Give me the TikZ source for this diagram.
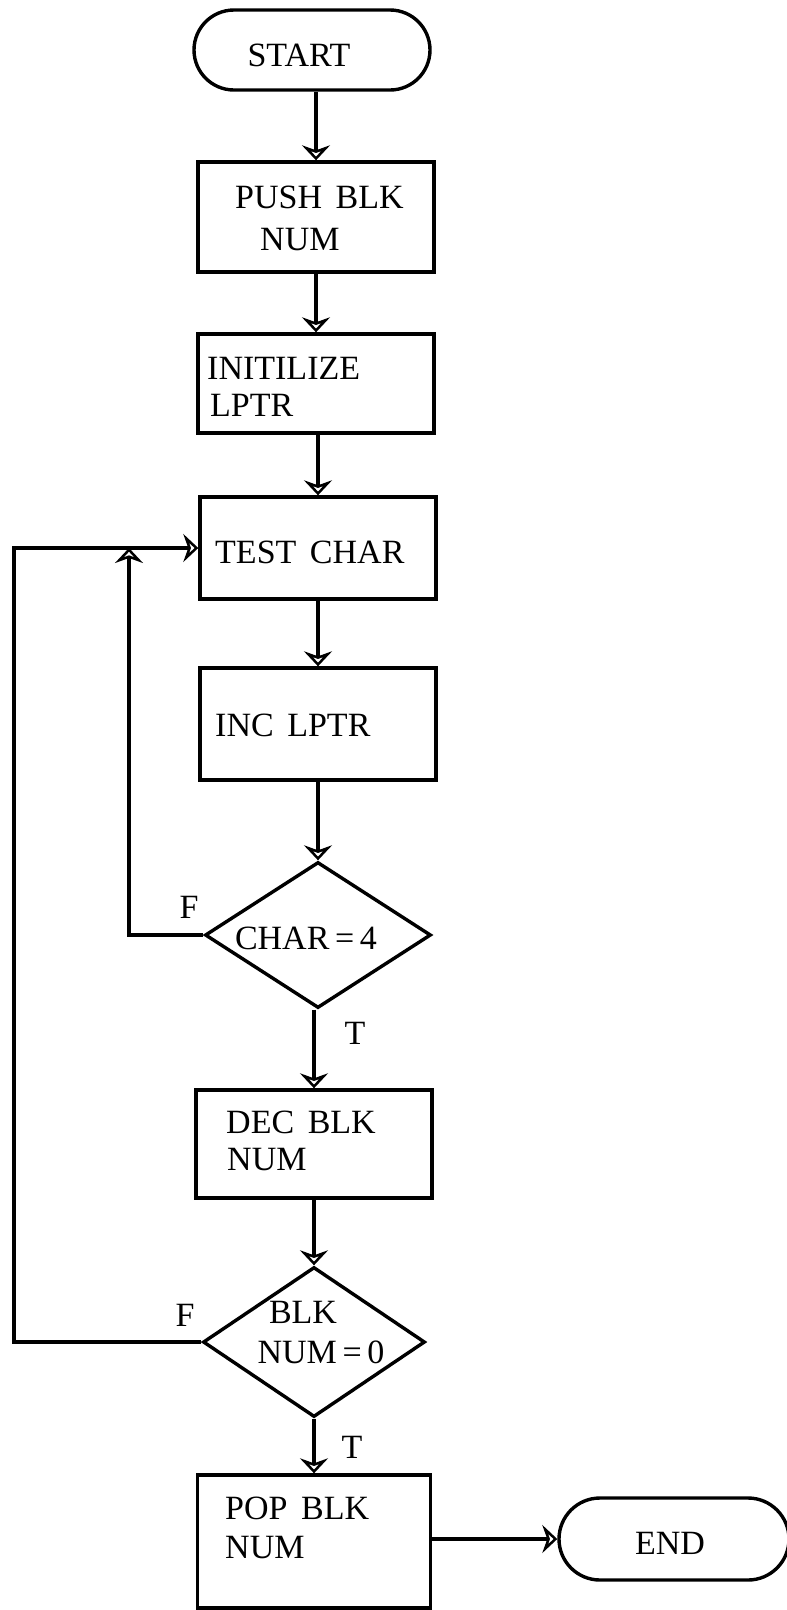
\documentclass[tikz,border=0pt]{standalone}
\usepackage{fontspec}
\setmainfont{Liberation Serif}
\usetikzlibrary{shapes.misc,shapes.geometric,arrows.meta}
\begin{document}
\begin{tikzpicture}[x=1pt,y=-1pt,
  ln/.style={line width=3.4pt},
  arr/.style={ln,-{Stealth[open,length=15pt,width=28pt,inset=5pt,line width=3.4pt]}},
  procbox/.style={draw,line width=3.4pt,rectangle,minimum width=236pt,inner sep=0pt},
  term/.style={draw,line width=3.4pt,rounded rectangle,minimum width=236pt,minimum height=80pt,inner sep=0pt},
  decis/.style={draw,line width=3.4pt,diamond,inner sep=0pt},
  txt/.style={inner sep=0pt,font=\fontsize{34}{40}\selectfont},
  ]
\clip (0,0) rectangle (787,1610);
\fill[white] (0,0) rectangle (787,1610);
% nodes
\node[term] (start) at (312,50) {};
\node[procbox,minimum height=110pt] (push) at (316,217) {};
\node[procbox,minimum height=99pt] (init) at (316,383.5) {};
\node[procbox,minimum height=102pt] (test) at (318,548) {};
\node[procbox,minimum height=112pt] (inc) at (318,724) {};
\node[decis,minimum width=226pt,minimum height=146pt] (d1) at (318,935) {};
\node[procbox,minimum height=108pt] (dec) at (314,1144) {};
\node[decis,minimum width=222pt,minimum height=150pt] (d2) at (314,1342) {};
\node[procbox,minimum width=233pt,minimum height=133pt] (pop) at (314,1541.5) {};
\node[term,minimum width=230pt,minimum height=82pt] (end) at (674,1539) {};
% texts
\node[txt] (startT) at (299,55) {START};
\node[txt,anchor=west] (pushT1) at (235,197) {PUSH\hspace{0.4em}BLK};
\node[txt,anchor=west] (pushT2) at (260,240) {NUM};
\node[txt,anchor=west] (initT1) at (207,368) {INITILIZE};
\node[txt,anchor=west] (initT2) at (210,405) {LPTR};
\node[txt,anchor=west] (testT) at (215,552) {TEST\hspace{0.4em}CHAR};
\node[txt,anchor=west] (incT) at (215,725) {INC\hspace{0.4em}LPTR};
\node[txt] (d1T) at (306,938) {CHAR\,=\,4};
\node[txt,anchor=west] (decT1) at (226,1122) {DEC\hspace{0.4em}BLK};
\node[txt,anchor=west] (decT2) at (227,1160) {NUM};
\node[txt] (d2T1) at (303,1312) {BLK};
\node[txt] (d2T2) at (321,1352) {NUM\,=\,0};
\node[txt,anchor=west] (popT1) at (225,1508) {POP\hspace{0.4em}BLK};
\node[txt,anchor=west] (popT2) at (225,1548) {NUM};
\node[txt] (endT) at (670,1543) {END};
% branch labels
\node[txt] (f1) at (189,907) {F};
\node[txt] (f2) at (185,1315) {F};
\node[txt] (t1) at (355,1033) {T};
\node[txt] (t2) at (352,1447) {T};
% connectors
\draw[arr] (start.south -| push.north) -- (push.north);
\draw[arr] (push) -- (init);
\draw[arr] (init.south -| test.north) -- (test.north);
\draw[arr] (test) -- (inc);
\draw[arr] (inc) -- (d1);
\draw[arr] (d1.south -| dec.north) -- (dec.north);
\draw[arr] (dec) -- (d2);
\draw[arr] (d2) -- (pop);
\draw[arr] (pop.east |- end.west) -- (end.west);
\coordinate (jn) at (129,548);
\coordinate (ol) at (14,548);
\draw[arr] (d1.west) -| (jn);
\draw[arr] (d2.west) -| (ol) -- (test.west);
\end{tikzpicture}
\end{document}
